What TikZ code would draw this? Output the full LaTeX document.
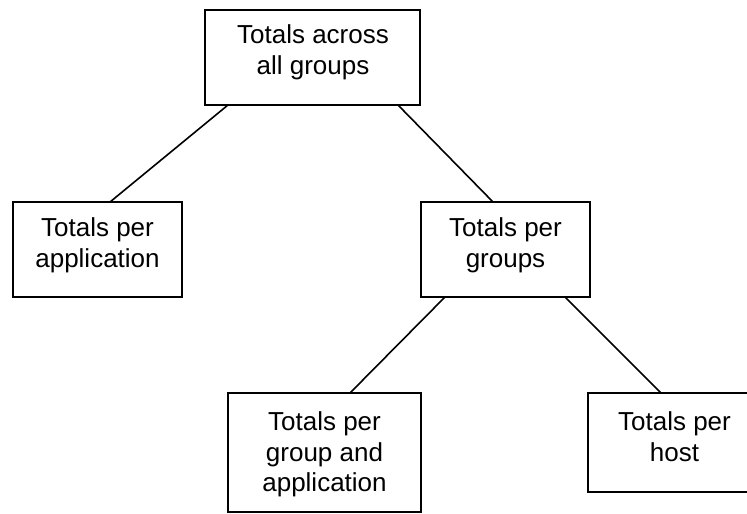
\documentclass[tikz,border=0pt]{standalone}
\usepackage{fontspec}
\setmainfont{Liberation Sans}
\begin{document}
\begin{tikzpicture}[x=1pt,y=-1pt,
  box/.style={draw=black,line width=1.6pt,rectangle,inner sep=0pt,outer sep=0pt},
  txt/.style={anchor=north,inner sep=0pt,outer sep=0pt,align=center,font=\fontsize{26}{30.5}\selectfont},
  conn/.style={draw=black,line width=1.6pt}]
\useasboundingbox (0,0) rectangle (747,514);
\clip (0,0) rectangle (747,514);
% boxes
\node[box,minimum width=215pt,minimum height=95pt] (top) at (312.5,57.5) {};
\node[box,minimum width=169pt,minimum height=95pt] (left) at (97.5,249.5) {};
\node[box,minimum width=169pt,minimum height=95pt] (mid) at (505.5,249.5) {};
\node[box,minimum width=193pt,minimum height=119pt] (group) at (324.5,452.5) {};
\node[box,minimum width=173pt,minimum height=99pt] (host) at (674.5,442.5) {};
% texts
\node[txt] (ttop) at (313,25) {Totals across\\all groups};
\node[txt] (tleft) at (97.5,218) {Totals per\\application};
\node[txt] (tmid) at (505.5,218) {Totals per\\groups};
\node[txt] (tgroup) at (324.5,412) {Totals per\\group and\\application};
\node[txt] (thost) at (674.5,412) {Totals per\\host};
% connectors
\draw[conn] ([xshift=23pt]top.south west) -- ([xshift=12.5pt]left.north);
\draw[conn] ([xshift=-22pt]top.south east) -- ([xshift=-12.5pt]mid.north);
\draw[conn] ([xshift=24pt]mid.south west) -- ([xshift=25.5pt]group.north);
\draw[conn] ([xshift=-25pt]mid.south east) -- ([xshift=73pt]host.north west);
\end{tikzpicture}
\end{document}
